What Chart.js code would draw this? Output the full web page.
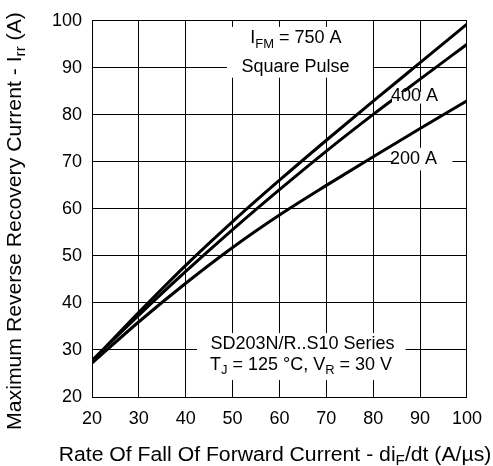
<!DOCTYPE html>
<html>
<head>
<meta charset="utf-8">
<script src="https://cdn.jsdelivr.net/npm/chart.js@4/dist/chart.umd.min.js"></script>
<style>
  html,body{margin:0;padding:0;background:#fff;}
  #wrap{width:493px;height:466px;}
</style>
</head>
<body>
<div id="wrap"><canvas id="chart" width="493" height="466"></canvas></div>
<script>
// rate of fall (A/us)
const rates = [20, 30, 40, 50, 60, 70, 80, 90, 100];
// Irr (A) per forward current
const irr750 = [27.6, 38.0, 48.0, 57.3, 66.1, 74.6, 82.9, 91.1, 99.3];
const irr400 = [27.8, 37.4, 46.7, 55.6, 64.1, 72.3, 80.1, 87.6, 95.0];
const irr200 = [27.2, 36.0, 44.2, 51.8, 58.7, 65.0, 71.1, 77.1, 83.0];
const xTicks = [20, 30, 40, 50, 60, 70, 80, 90, 100];
const yTicks = [20, 30, 40, 50, 60, 70, 80, 90, 100];

const FONT = '"Liberation Sans", Arial, Helvetica, sans-serif';

// text with optional subscript parts, sx = horizontal stretch
function partsWidth(ctx, parts, size){
  let w = 0;
  parts.forEach(p=>{
    ctx.font = (p.sub ? size*0.72 : size) + 'px ' + FONT;
    w += ctx.measureText(p.t).width;
  });
  return w;
}
function drawParts(ctx, parts, cx, cy, size, sx){
  sx = sx || 1;
  const w = partsWidth(ctx, parts, size);
  ctx.save();
  ctx.translate(cx, cy);
  ctx.scale(sx, 1);
  let x = -w/2;
  ctx.textBaseline = 'middle';
  ctx.textAlign = 'left';
  ctx.fillStyle = '#000';
  parts.forEach(p=>{
    const s = p.sub ? size*0.72 : size;
    ctx.font = s + 'px ' + FONT;
    ctx.fillText(p.t, x, p.sub ? size*0.32 : 0);
    x += ctx.measureText(p.t).width;
  });
  ctx.restore();
}

// boxes in data units, white, cover the grid (and curves where the label sits)
const notes = [
  { box:[48.8, 98.7, 79.9, 87.9], lines:[
      { x:63.5, y:96.3, parts:[{t:'I'},{t:'FM',sub:true},{t:' = 750 A'}] },
      { x:63.4, y:90.2, parts:[{t:'Square Pulse'}] } ] },
  { box:[84.0, 84.9, 94.7, 82.4], lines:[
      { x:88.8, y:84.0, parts:[{t:'400 A'}] } ] },
  { box:[84.0, 73.0, 96.9, 68.2], lines:[
      { x:88.6, y:70.6, parts:[{t:'200 A'}] } ] },
  { box:[42.4, 33.6, 86.9, 23.6], lines:[
      { x:64.9, y:31.3, parts:[{t:'SD203N/R..S10 Series'}] },
      { x:64.6, y:26.8, parts:[{t:'T'},{t:'J',sub:true},{t:' = 125 °C, V'},{t:'R',sub:true},{t:' = 30 V'}] } ] }
];

const notesPlugin = {
  id:'notes',
  afterDatasetsDraw(chart){
    const ctx = chart.ctx, xs = chart.scales.x, ys = chart.scales.y;
    ctx.save();
    notes.forEach(n=>{
      const x0 = xs.getPixelForValue(n.box[0]), y0 = ys.getPixelForValue(n.box[1]);
      const x1 = xs.getPixelForValue(n.box[2]), y1 = ys.getPixelForValue(n.box[3]);
      ctx.fillStyle = '#fff';
      ctx.fillRect(x0, y0, x1-x0, y1-y0);
      n.lines.forEach(l=>{
        drawParts(ctx, l.parts, xs.getPixelForValue(l.x), ys.getPixelForValue(l.y), 18);
      });
    });
    ctx.restore();
  },
  afterDraw(chart){
    const ctx = chart.ctx;
    ctx.save();
    drawParts(ctx, [{t:'Rate Of Fall Of Forward Current - di'},{t:'F',sub:true},{t:'/dt (A/µs)'}], 275, 455, 20, 1.06);
    ctx.translate(15, 221);
    ctx.rotate(-Math.PI/2);
    drawParts(ctx, [{t:'Maximum Reverse Recovery Current - I'},{t:'rr',sub:true},{t:' (A)'}], 0, 0, 20, 1.06);
    ctx.restore();
  }
};

const mkSet = (vals)=>({
  data: vals.map((v,j)=>({x:rates[j], y:v})),
  borderColor:'#000', borderWidth:3, pointRadius:0,
  cubicInterpolationMode:'monotone', fill:false
});

new Chart(document.getElementById('chart'), {
  type:'line',
  data:{ datasets:[ mkSet(irr750), mkSet(irr400), mkSet(irr200) ] },
  options:{
    responsive:false, animation:false, devicePixelRatio:1,
    layout:{ padding:{ left:0, right:23, top:20, bottom:0 } },
    plugins:{ legend:{display:false}, tooltip:{enabled:false} },
    scales:{
      x:{ type:'linear', min:20, max:100,
          afterBuildTicks: s=>{ s.ticks = xTicks.map(v=>({value:v})); },
          afterFit: s=>{ s.height = 69; },
          grid:{ color:'#000', lineWidth:1, drawTicks:false },
          border:{ color:'#000', width:1 },
          ticks:{ color:'#000', padding:11, font:{ family:FONT, size:18 } } },
      y:{ type:'linear', min:20, max:100,
          afterBuildTicks: s=>{ s.ticks = yTicks.map(v=>({value:v})); },
          afterFit: s=>{ s.width = 92; },
          grid:{ color:'#000', lineWidth:1, drawTicks:false },
          border:{ color:'#000', width:1 },
          ticks:{ color:'#000', padding:10, font:{ family:FONT, size:18 } } }
    }
  },
  plugins:[notesPlugin]
});
</script>
</body>
</html>
